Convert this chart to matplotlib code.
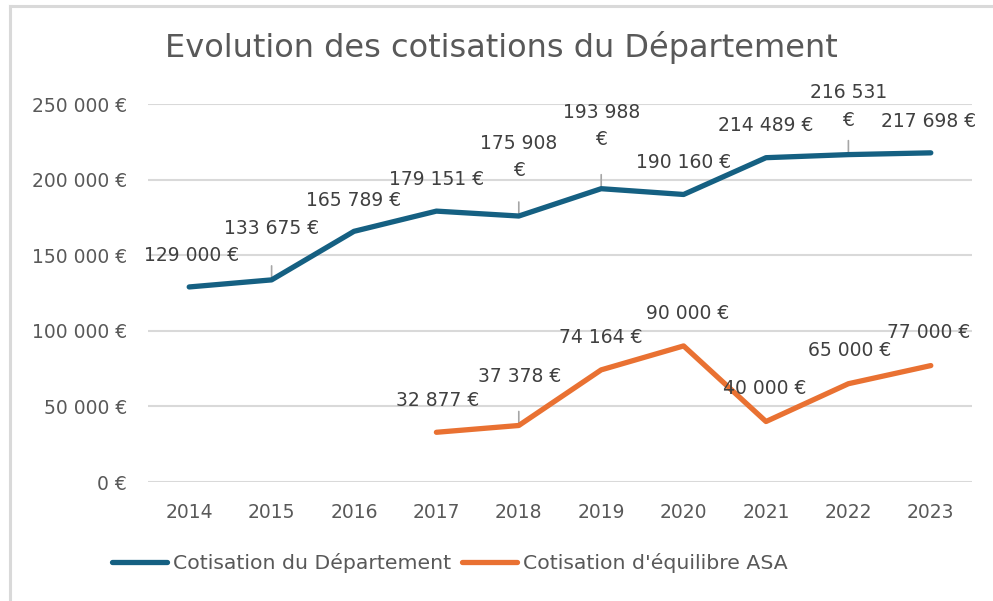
import numpy as np
import matplotlib.pyplot as plt
from matplotlib.lines import Line2D

years = ["2014", "2015", "2016", "2017", "2018", "2019", "2020", "2021", "2022", "2023"]
cotisation_dep = [129000, 133675, 165789, 179151, 175908, 193988, 190160, 214489, 216531, 217698]
cotisation_asa = [np.nan, np.nan, np.nan, 32877, 37378, 74164, 90000, 40000, 65000, 77000]
y_ticks = [0, 50000, 100000, 150000, 200000, 250000]

# décalage des étiquettes (pixels) et retour à la ligne / trait de rappel
off_dep = [(2, 31), (0, 51), (0, 31), (0, 32), (0, 59), (0, 63), (0, 32), (0, 32), (0, 48), (-2, 31)]
wrap_dep = [False, False, False, False, True, True, False, False, True, False]
lead_dep = [False, True, False, False, True, True, False, False, True, False]
off_asa = [None, None, None, (1, 32), (1, 49), (0, 32), (4, 32), (-1, 33), (1, 33), (-2, 33)]
lead_asa = [False, False, False, False, True, False, False, False, False, False]

BLUE = "#156082"
ORANGE = "#E97132"
TXT = "#404040"
GRID = "#d9d9d9"
FS = 13.5


def fmt(v):
    return f"{int(v):,}".replace(",", " ") + " €"


fig = plt.figure(figsize=(9.93, 6.01), dpi=100)
W, H = 993, 601
ax = fig.add_axes([148 / W, 1 - 482 / H, (972 - 148) / W, (482 - 104) / H])

x = np.arange(len(years))
ax.plot(x, cotisation_dep, color=BLUE, lw=3.8, solid_capstyle="round",
        label="Cotisation du Département", zorder=3)
ax.plot(x, cotisation_asa, color=ORANGE, lw=3.8, solid_capstyle="round",
        label="Cotisation d'équilibre ASA", zorder=3)

ax.set_xlim(-0.5, len(years) - 0.5)
ax.set_ylim(0, 250000)
ax.set_yticks(y_ticks)
ax.set_yticklabels([fmt(v) for v in y_ticks])
ax.set_xticks(x)
ax.set_xticklabels(years)
ax.tick_params(axis="both", length=0, labelsize=FS, colors="#595959")
ax.tick_params(axis="y", pad=15)
ax.tick_params(axis="x", pad=15)
for s in ax.spines.values():
    s.set_visible(False)
ax.grid(axis="y", color=GRID, lw=1.5)
ax.set_axisbelow(True)


def label(i, v, off, wrap, lead):
    t = fmt(v)
    if wrap:
        t = t.replace(" €", "\n€")
    ax.annotate(t, (i, v), xytext=off, textcoords="offset pixels",
                ha="center", va="center", fontsize=FS, color=TXT,
                linespacing=1.55, zorder=4)
    if lead:
        ax.annotate("", (i, v), xytext=(0, 14), textcoords="offset pixels",
                    arrowprops=dict(arrowstyle="-", color="#a6a6a6", lw=1.2,
                                    shrinkA=0, shrinkB=0), zorder=2)


for i, v in enumerate(cotisation_dep):
    label(i, v, off_dep[i], wrap_dep[i], lead_dep[i])
for i, v in enumerate(cotisation_asa):
    if np.isnan(v):
        continue
    label(i, v, off_asa[i], False, lead_asa[i])

fig.text(501 / W, 1 - 48 / H, "Evolution des cotisations du Département",
         ha="center", va="center", fontsize=23, color="#595959")

fig.legend(loc="center", bbox_to_anchor=(450 / W, 1 - 563 / H), ncol=2,
           frameon=False, fontsize=14.7, handlelength=2.7, handletextpad=0.3,
           columnspacing=0.5, labelcolor="#595959")

# cadre du graphique (bords gauche et haut visibles)
x0, y0 = 9.5 / W, 1 - 5.5 / H
fig.add_artist(Line2D([x0, x0], [0, y0], transform=fig.transFigure, color=GRID, lw=2.2))
fig.add_artist(Line2D([x0, 1], [y0, y0], transform=fig.transFigure, color=GRID, lw=2.2))

fig.savefig("out.png", dpi=100)
